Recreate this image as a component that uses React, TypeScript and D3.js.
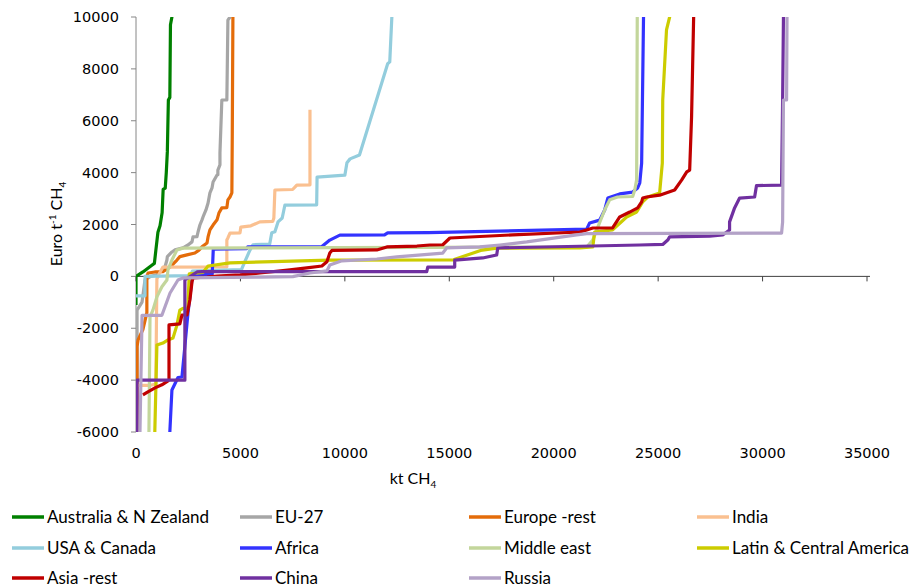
import * as d3 from 'd3'

type Pt = [number, number]

// axis ticks
const xTicks = [0, 5000, 10000, 15000, 20000, 25000, 30000, 35000]
const yTicks = [-6000, -4000, -2000, 0, 2000, 4000, 6000, 8000, 10000]

// cumulative abatement (kt CH4) vs marginal cost (Euro / t CH4)
const australiaNZ: Pt[] = [[0, -1100], [0, 0], [330, 170], [760, 430], [880, 500], [950, 1000], [1050, 1700], [1150, 1950], [1250, 2450], [1300, 3350], [1400, 3400], [1450, 4000], [1500, 4800], [1550, 6800], [1620, 6900], [1650, 9700], [1720, 10000], [1750, 11000]]
const eu27: Pt[] = [[50, -7000], [50, -1300], [290, -990], [430, -140], [700, 0], [1000, 60], [1250, 250], [1400, 400], [1480, 630], [1500, 760], [1720, 940], [1870, 1020], [2250, 1100], [2490, 1210], [2680, 1330], [2730, 1520], [2920, 1530], [2970, 1710], [3060, 1980], [3160, 2180], [3210, 2290], [3350, 2560], [3450, 2830], [3540, 3220], [3640, 3410], [3690, 3640], [3880, 3910], [3920, 3920], [3920, 4100], [4020, 4300], [4020, 4760], [4110, 6800], [4350, 6800], [4400, 9880], [4500, 10000], [4550, 11000]]
const europeRest: Pt[] = [[50, -7000], [50, -2700], [100, -2450], [330, -2050], [520, -1400], [520, 0], [580, 130], [900, 170], [1290, 180], [1630, 360], [1960, 630], [2100, 760], [2440, 830], [2820, 900], [3000, 1000], [3160, 1140], [3400, 1290], [3450, 1520], [3540, 1790], [3690, 1980], [3880, 2180], [3970, 2440], [4110, 2640], [4350, 2650], [4400, 2950], [4500, 3060], [4590, 3220], [4610, 5500], [4640, 10000], [4650, 11000]]
const india: Pt[] = [[50, -7000], [50, -4200], [700, -4200], [950, -4150], [1000, -100], [1100, 80], [1290, 360], [4350, 370], [4350, 1400], [4400, 1480], [4500, 1670], [4980, 1680], [5020, 1900], [5500, 1950], [5930, 2100], [6550, 2120], [6600, 2250], [6650, 3330], [7500, 3350], [7700, 3520], [8330, 3530], [8330, 6420]]
const usaCanada: Pt[] = [[0, -750], [430, -750], [430, 0], [2600, 30], [2700, 200], [5050, 260], [5200, 550], [5450, 1000], [5600, 1220], [6400, 1240], [6500, 1680], [6650, 1720], [6800, 2100], [7000, 2250], [7130, 2750], [8650, 2760], [8670, 3830], [10000, 3900], [10100, 4380], [10250, 4530], [10700, 4680], [12050, 8200], [12150, 8270], [12250, 10000], [12260, 11000]]
const africa: Pt[] = [[1620, -7000], [1620, -6000], [1720, -4380], [2010, -3900], [2200, -3880], [2340, -2700], [2490, -1400], [2680, -100], [2700, 50], [3650, 80], [3700, 1050], [5300, 1070], [5350, 1140], [8900, 1150], [9280, 1400], [9760, 1590], [11900, 1600], [12050, 1680], [14000, 1690], [21580, 1820], [21720, 2060], [22200, 2170], [22440, 2560], [22590, 3020], [23160, 3180], [23780, 3250], [24020, 3410], [24120, 3600], [24210, 4370], [24300, 10000], [24310, 11000]]
const middleEast: Pt[] = [[620, -7000], [620, -6000], [670, -1570], [810, -1300], [1000, -790], [1240, -400], [1480, -140], [1530, 250], [1720, 630], [1960, 1020], [2250, 1090], [5900, 1100], [21580, 1135], [21870, 1400], [22060, 1790], [22440, 2560], [22680, 2950], [23060, 3060], [23780, 3080], [23880, 3330], [23970, 3720], [24000, 10000], [24010, 11000]]
const latinAmerica: Pt[] = [[900, -7000], [900, -6000], [1000, -2650], [1290, -2570], [1530, -2450], [1770, -2380], [1960, -1880], [2100, -1300], [2250, -1230], [2480, -1230], [2550, 100], [2970, 130], [3200, 150], [3450, 400], [4500, 520], [9280, 630], [15200, 640], [16500, 1000], [17270, 1090], [21250, 1100], [21870, 1135], [21960, 1710], [22820, 1790], [23490, 2290], [23970, 2480], [24260, 2870], [24500, 3060], [25070, 3210], [25200, 4370], [25220, 6800], [25400, 9500], [25550, 10000], [25600, 11000]]
const asiaRest: Pt[] = [[330, -4570], [570, -4450], [910, -4300], [1240, -4180], [1480, -4060], [1580, -3990], [1580, -1870], [2100, -1830], [2200, -1490], [2440, -1490], [2580, -910], [2680, -215], [2730, -60], [3400, -25], [3880, 15], [4980, 55], [5930, 130], [7370, 250], [8180, 325], [8900, 400], [9140, 560], [9280, 900], [9380, 1000], [11530, 1020], [12010, 1135], [13450, 1170], [14070, 1210], [14690, 1220], [15030, 1480], [18040, 1600], [21250, 1710], [21580, 1790], [21870, 1865], [22820, 1870], [23160, 2290], [23640, 2480], [24020, 2640], [24210, 2870], [24260, 3020], [24450, 3060], [25070, 3130], [25790, 3330], [26130, 3720], [26370, 4030], [26510, 4100], [26600, 6140], [26650, 8070], [26700, 10000], [26710, 11000]]
const china: Pt[] = [[50, -7000], [50, -4000], [2340, -4000], [2340, -140], [2920, 170], [3160, 180], [13920, 180], [13970, 360], [15260, 360], [15260, 630], [16600, 710], [17270, 825], [17320, 1095], [24100, 1210], [25220, 1230], [25460, 1400], [25550, 1520], [27470, 1550], [28090, 1595], [28420, 1790], [28420, 2100], [28660, 2640], [28900, 3020], [29620, 3060], [29710, 3500], [30910, 3520], [30960, 6800], [31000, 10000], [31010, 11000]]
const russia: Pt[] = [[190, -7000], [190, -6000], [290, -1500], [1240, -1500], [1630, -640], [2010, -140], [2250, -60], [5930, -30], [7510, -10], [8330, 130], [9140, 210], [9280, 440], [9860, 600], [11530, 670], [12490, 750], [14690, 900], [14880, 1100], [16460, 1135], [17420, 1210], [18710, 1330], [21100, 1600], [21580, 1650], [30910, 1670], [30960, 2100], [31000, 6800], [31150, 6800], [31170, 10000], [31180, 11000]]

const seriesNames = ['Australia & N Zealand', 'EU-27', 'Europe -rest', 'India', 'USA & Canada', 'Africa', 'Middle east', 'Latin & Central America', 'Asia -rest', 'China', 'Russia']
const seriesColors = ['#008000', '#A6A6A6', '#E46C0A', '#FAC090', '#93CDDD', '#3333FF', '#C3D69B', '#CCCC00', '#C00000', '#7030A0', '#B3A2C7']
const seriesData = [australiaNZ, eu27, europeRest, india, usaCanada, africa, middleEast, latinAmerica, asiaRest, china, russia]

const tickFont = 'DejaVu Sans, sans-serif'
const textFont = 'Lato, sans-serif'

export default function App() {
  const width = 914
  const height = 587
  const left = 136
  const right = 867
  const top = 17
  const bottom = 432

  const x = d3.scaleLinear().domain([0, 35000]).range([left, right])
  const y = d3.scaleLinear().domain([-6000, 10000]).range([bottom, top])
  const line = d3
    .line<Pt>()
    .x((d) => x(d[0]))
    .y((d) => y(d[1]))

  const legendCols = [12, 240, 469, 697]
  const legendRows = [517, 548, 578]

  return (
    <svg width={width} height={height} style={{ position: 'absolute', left: 0, top: 0, background: '#fff' }}>
      <defs>
        <clipPath id="plot-clip">
          <rect x={left} y={top} width={right - left + 4} height={bottom - top} />
        </clipPath>
      </defs>

      {/* y axis */}
      <line x1={left} x2={left} y1={top} y2={bottom} stroke="#868686" strokeWidth={1} />
      {yTicks.map((t) => (
        <g key={t}>
          <line x1={left - 5} x2={left} y1={y(t)} y2={y(t)} stroke="#868686" />
          <text x={left - 17} y={y(t)} dy="0.35em" textAnchor="end" fontFamily={tickFont} fontSize={14.5} fill="#000">
            {t}
          </text>
        </g>
      ))}

      {/* x axis crosses at 0 */}
      <line x1={left} x2={right + 3} y1={y(0)} y2={y(0)} stroke="#404040" strokeWidth={1} />
      {xTicks.map((t) => (
        <g key={t}>
          <line x1={x(t)} x2={x(t)} y1={y(0)} y2={y(0) + 5} stroke="#404040" />
          <text x={x(t)} y={453} dy="0.35em" textAnchor="middle" fontFamily={tickFont} fontSize={14.5} fill="#000">
            {t}
          </text>
        </g>
      ))}

      {/* series */}
      <g clipPath="url(#plot-clip)">
        {seriesData.map((d, i) => (
          <path key={seriesNames[i]} d={line(d) ?? ''} fill="none" stroke={seriesColors[i]} strokeWidth={3.2} strokeLinejoin="round" />
        ))}
      </g>

      {/* axis titles */}
      <text x={413} y={478} dy="0.35em" textAnchor="middle" fontFamily={textFont} fontSize={16} fill="#000">
        kt CH<tspan fontSize={10} dy="4">4</tspan>
      </text>
      <text transform="translate(62,224) rotate(-90)" textAnchor="middle" fontFamily={textFont} fontSize={16} fill="#000">
        Euro t<tspan fontSize={10} dy="-6">-1</tspan>
        <tspan dy="6"> CH</tspan>
        <tspan fontSize={10} dy="4">4</tspan>
      </text>

      {/* legend */}
      {seriesNames.map((name, i) => {
        const lx = legendCols[i % 4]
        const ly = legendRows[Math.floor(i / 4)]
        return (
          <g key={name}>
            <line x1={lx} x2={lx + 32} y1={ly} y2={ly} stroke={seriesColors[i]} strokeWidth={3.5} />
            <text x={lx + 35} y={ly} dy="0.35em" fontFamily={textFont} fontSize={17} fill="#000">
              {name}
            </text>
          </g>
        )
      })}
    </svg>
  )
}
